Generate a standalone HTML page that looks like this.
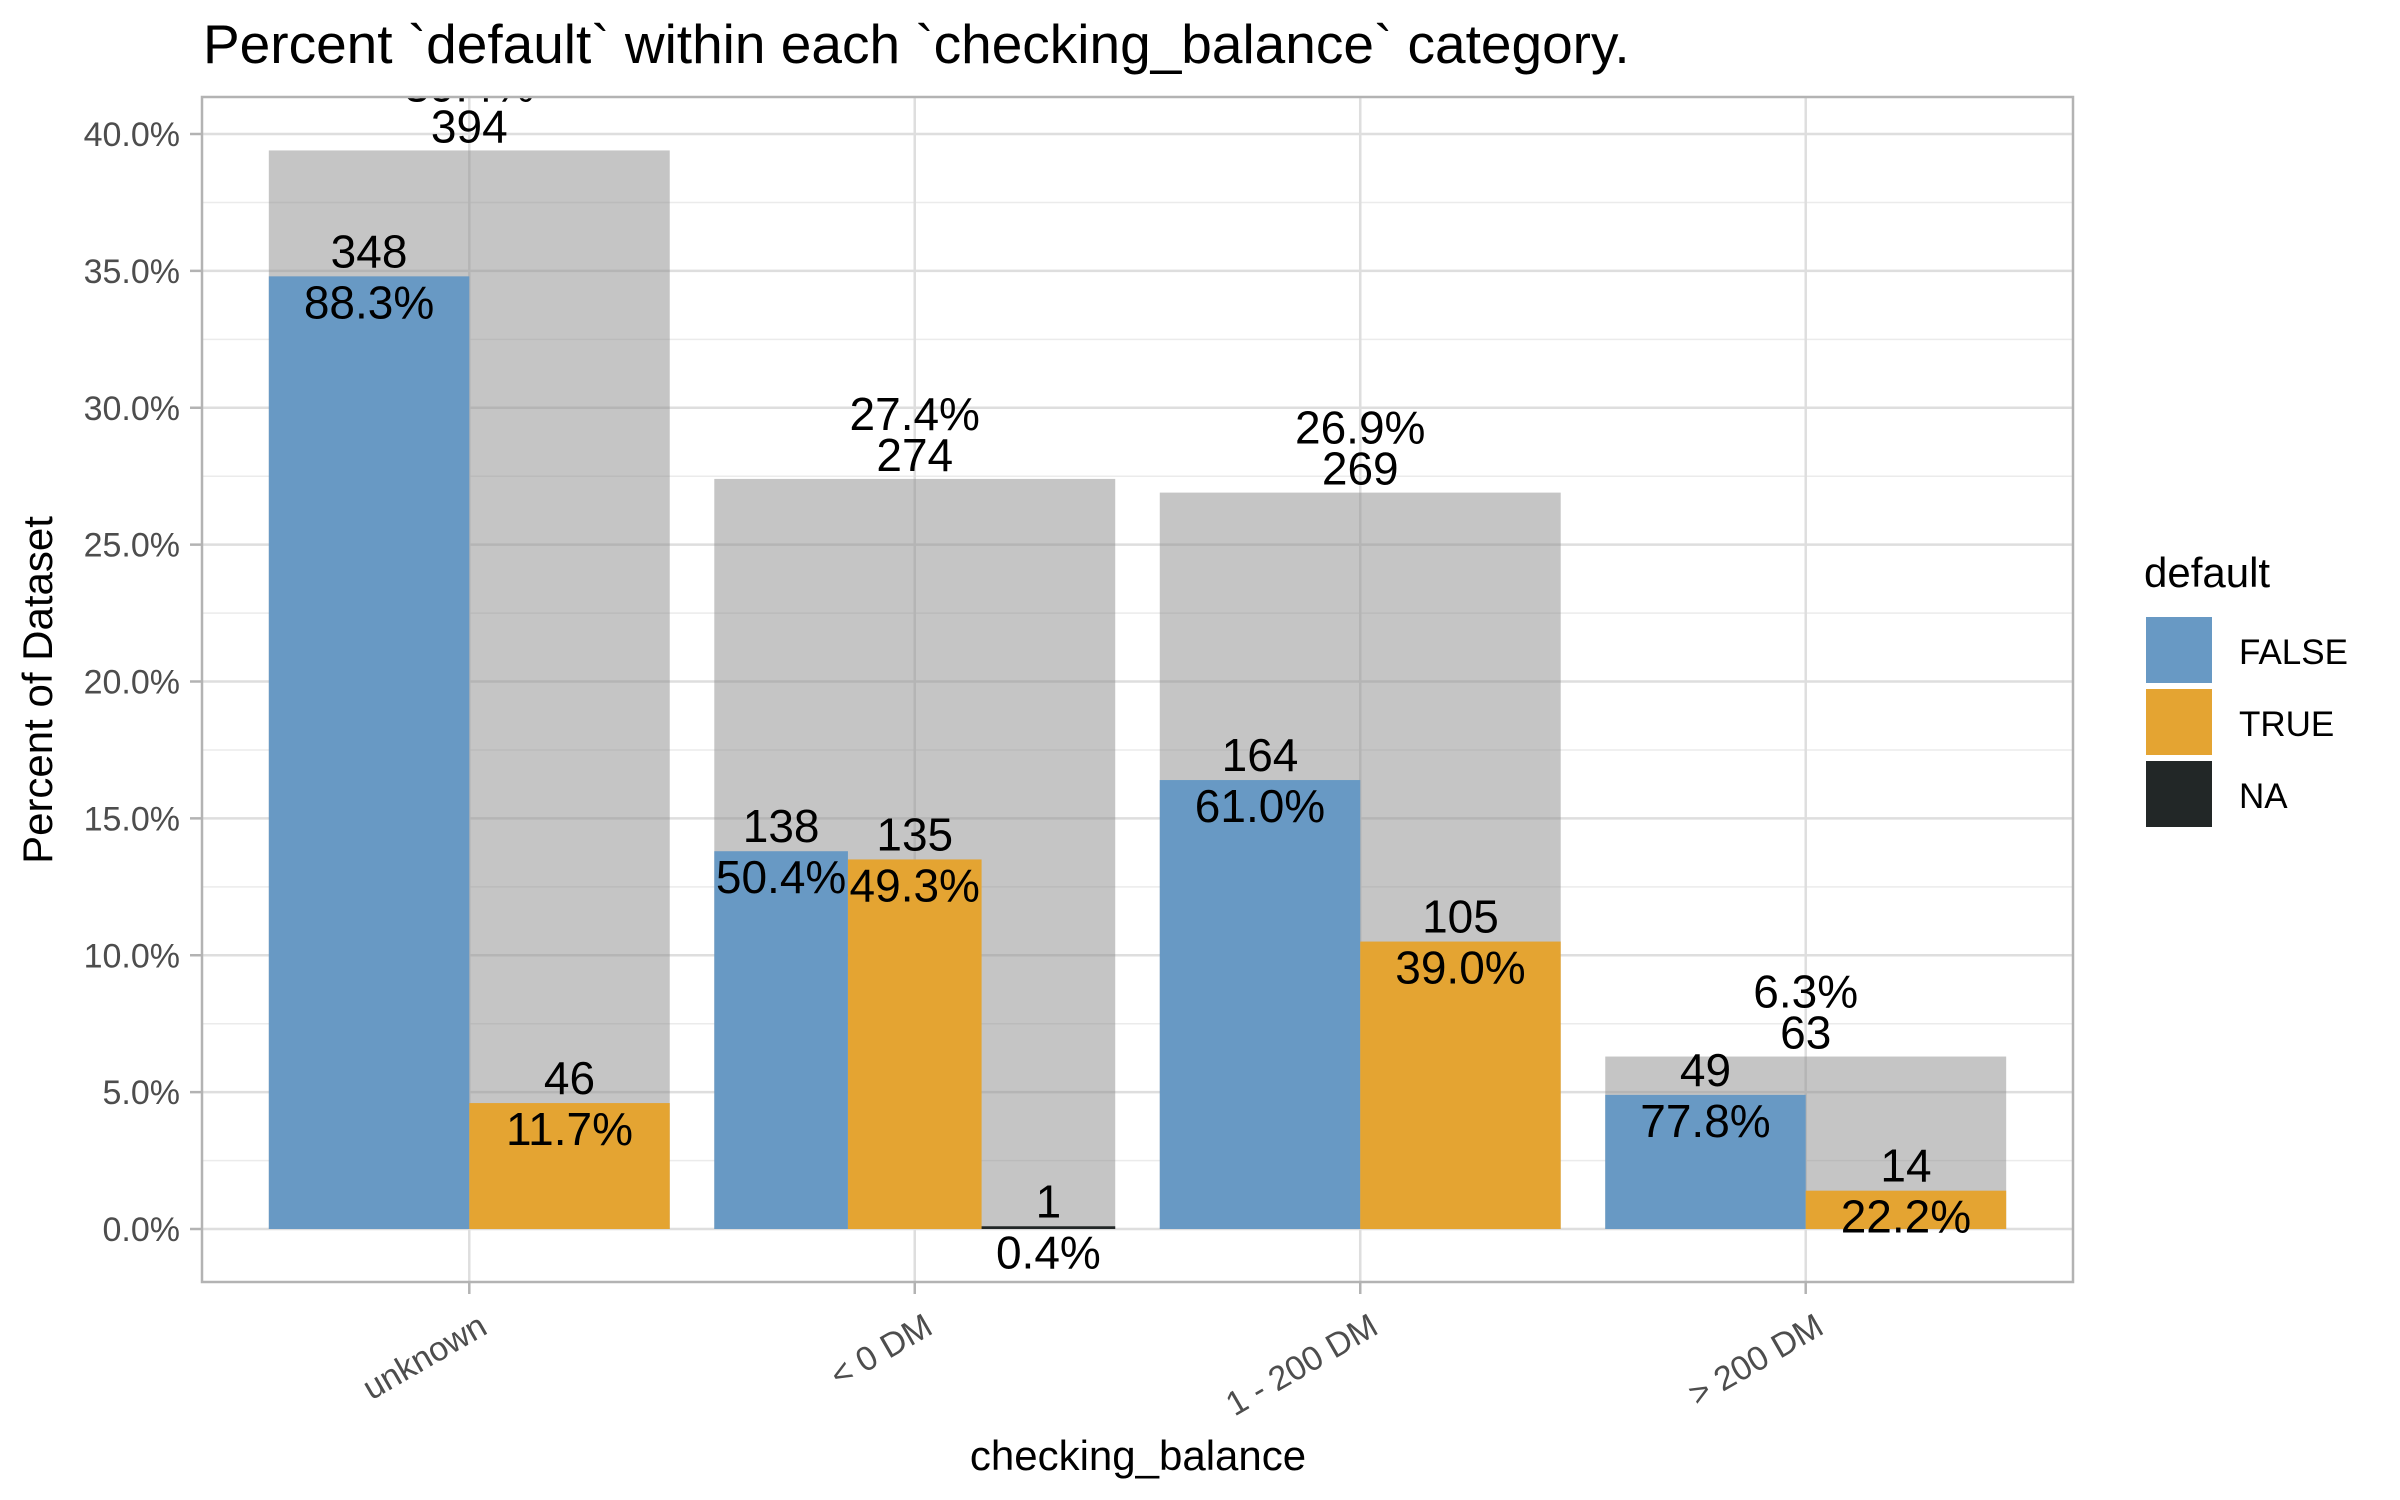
<!DOCTYPE html>
<html><head><meta charset="utf-8"><style>
html,body{margin:0;padding:0;background:#fff;}
svg{display:block;font-family:"Liberation Sans",Arial,sans-serif;}
</style></head><body>
<svg id="chart" width="2400" height="1500" viewBox="0 0 2400 1500" xmlns="http://www.w3.org/2000/svg">
<defs><clipPath id="pclip"><rect x="202" y="97" width="1871" height="1185"/></clipPath></defs>
<text x="203" y="63" font-size="55" fill="#000">Percent `default` within each `checking_balance` category.</text>
<rect x="202" y="97" width="1871" height="1185" fill="#fff"/>
<g id="grid"></g>
<g id="bars" clip-path="url(#pclip)"></g>
<g id="labels" clip-path="url(#pclip)"></g>
<rect x="202" y="97" width="1871" height="1185" fill="none" stroke="#b3b3b3" stroke-width="2.5"/>
<g id="axes"></g>
<text x="1138" y="1470" font-size="42" text-anchor="middle" fill="#000">checking_balance</text>
<text transform="translate(52,690) rotate(-90)" font-size="42" text-anchor="middle" fill="#000">Percent of Dataset</text>
<g>
<text x="2144" y="587" font-size="42" fill="#000">default</text>
<rect x="2146" y="617" width="66" height="66" fill="#6899c4"/>
<text x="2239" y="664" font-size="35" fill="#000">FALSE</text>
<rect x="2146" y="689" width="66" height="66" fill="#e4a432"/>
<text x="2239" y="736" font-size="35" fill="#000">TRUE</text>
<rect x="2146" y="761" width="66" height="66" fill="#222727"/>
<text x="2239" y="808" font-size="35" fill="#000">NA</text>
</g>
</svg>
<script>
const categories = ["unknown", "< 0 DM", "1 - 200 DM", "> 200 DM"];
const totalPct = [39.4, 27.4, 26.9, 6.3];
const totalCount = [394, 274, 269, 63];
const falsePct = [34.8, 13.8, 16.4, 4.9];
const falseCount = [348, 138, 164, 49];
const falseShare = ["88.3%", "50.4%", "61.0%", "77.8%"];
const truePct = [4.6, 13.5, 10.5, 1.4];
const trueCount = [46, 135, 105, 14];
const trueShare = ["11.7%", "49.3%", "39.0%", "22.2%"];
const naPct = [null, 0.1, null, null];
const naCount = [null, 1, null, null];
const naShare = [null, "0.4%", null, null];
const yTicks = [0, 5, 10, 15, 20, 25, 30, 35, 40];
const yTickLabels = ["0.0%", "5.0%", "10.0%", "15.0%", "20.0%", "25.0%", "30.0%", "35.0%", "40.0%"];

const NS = "http://www.w3.org/2000/svg";
const PL = 202, PR = 2073, PT = 97, PB = 1282;
const y0 = 1229, pxPerPct = 27.375;
const step = (PR - PL) / (categories.length - 1 + 1.2);
function xScale(i){ return PL + step * (0.6 + i); }
function yScale(v){ return y0 - v * pxPerPct; }
function mk(tag, attrs, parent){ const e = document.createElementNS(NS, tag); for (const k in attrs) e.setAttribute(k, attrs[k]); parent.appendChild(e); return e; }

const grid = document.getElementById('grid');
const bars = document.getElementById('bars');
const labels = document.getElementById('labels');
const axes = document.getElementById('axes');

for (let v = -2.5; v <= 42.5; v += 5) {
  const y = yScale(v);
  if (y < PT || y > PB) continue;
  const l = mk('line', {x1: PL, x2: PR, y1: y, y2: y, stroke: '#ebebeb', 'stroke-width': 1.5}, grid);
  
  
}
yTicks.forEach((v, i) => {
  const y = yScale(v);
  const l = mk('line', {x1: PL, x2: PR, y1: y, y2: y, stroke: '#dedede', 'stroke-width': 2.5}, grid);
  
  
  const t = mk('line', {x1: 190, x2: PL, y1: y, y2: y, stroke: '#b3b3b3', 'stroke-width': 2.5}, axes);
  
  
  const tx = mk('text', {x: 180, y: y + 12, 'font-size': 34, 'text-anchor': 'end', fill: '#4d4d4d'}, axes);
  tx.textContent = yTickLabels[i];
  
  
});
categories.forEach((c, i) => {
  const x = xScale(i);
  const l = mk('line', {x1: x, x2: x, y1: PT, y2: PB, stroke: '#dedede', 'stroke-width': 2.5}, grid);
  
  
  const t = mk('line', {x1: x, x2: x, y1: PB, y2: PB + 12, stroke: '#b3b3b3', 'stroke-width': 2.5}, axes);
  
  
  const tx = mk('text', {transform: `translate(${x + 8},${PB + 30}) rotate(-30)`, 'font-size': 34, 'text-anchor': 'end', fill: '#4d4d4d', dy: '0.7em'}, axes);
  tx.textContent = c;
  
  
});

function label(x, y, txt, name){
  const t = mk('text', {x: x, y: y, 'font-size': 46, 'text-anchor': 'middle', fill: '#000'}, labels);
  t.textContent = txt;
  
  
}

const fullW = step * 0.9;
categories.forEach((c, i) => {
  const cx = xScale(i);
  const left = cx - fullW / 2;
  const g = mk('rect', {x: left, y: yScale(totalPct[i]), width: fullW, height: y0 - yScale(totalPct[i]), fill: 'rgba(140,140,140,0.5)'}, bars);
  
  
  const subs = [];
  if (falsePct[i] != null) subs.push({v: falsePct[i], n: falseCount[i], s: falseShare[i], col: '#6899c4', nm: 'false'});
  if (truePct[i] != null) subs.push({v: truePct[i], n: trueCount[i], s: trueShare[i], col: '#e4a432', nm: 'true'});
  if (naPct[i] != null) subs.push({v: naPct[i], n: naCount[i], s: naShare[i], col: '#222727', nm: 'na'});
  const sw = fullW / subs.length;
  subs.forEach((s, j) => {
    const x = left + j * sw;
    const r = mk('rect', {x: x, y: yScale(s.v), width: sw, height: y0 - yScale(s.v), fill: s.col}, bars);
    
    
  });
  subs.forEach((s, j) => {
    const mx = left + (j + 0.5) * sw;
    label(mx, yScale(s.v) - 9, String(s.n), 'count-label');
    label(mx, yScale(s.v) + 42, s.s, 'share-label');
  });
  label(cx, yScale(totalPct[i]) - 8, String(totalCount[i]), 'total-count-label');
  label(cx, yScale(totalPct[i]) - 49, totalPct[i].toFixed(1) + '%', 'total-pct-label');
});
</script>
</body></html>
